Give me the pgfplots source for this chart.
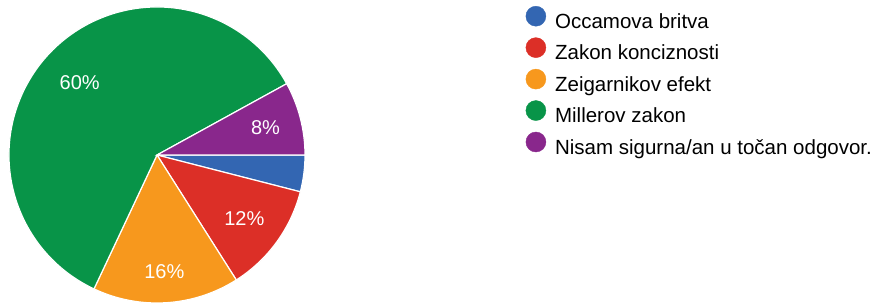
\documentclass[border=0pt]{standalone}
\usepackage{pgfplots}
\pgfplotsset{compat=1.18}
\usepackage{fontspec}
\setmainfont{Liberation Sans}
\usetikzlibrary{calc}
\definecolor{pblue}{RGB}{51,102,178}
\definecolor{pred}{RGB}{220,47,39}
\definecolor{porange}{RGB}{247,152,29}
\definecolor{pgreen}{RGB}{8,148,72}
\definecolor{ppurple}{RGB}{137,39,140}
% slice: start %, end %, colour, label, label distance
\newcommand{\slice}[5]{%
  \fill[#3, draw=white, line width=1.2pt] (axis cs:157,155) -- ++({-3.6*#1}:148pt)
    arc[start angle={-3.6*#1}, end angle={-3.6*#2}, radius=148pt] -- cycle;
  \node[text=white, font=\fontsize{20}{22}\selectfont] at ($(axis cs:157,155)+({-1.8*(#1+#2)}:#5pt)$) {#4};
}
\begin{document}
\begin{tikzpicture}
\begin{axis}[
  x=1pt, y=1pt, xmin=0, xmax=878, ymin=0, ymax=304, y dir=reverse,
  hide axis, clip=false,
  legend style={at={(axis cs:525.7,6)}, anchor=north west, draw=none, fill=none,
    inner sep=0pt, outer sep=0pt,
    font=\fontsize{20.5}{22}\selectfont, row sep=5pt, column sep=9pt,
    nodes={inner sep=0pt, outer sep=0pt, text height=14.5pt, text depth=4pt, anchor=west}},
  legend cell align=left,
  legend image code/.code={\fill[#1] (0pt,7pt) circle (10pt);},
]
% data: percentages 4, 12, 16, 60, 8 (cumulative 0,4,16,32,92,100)
\slice{0}{4}{pblue}{}{108}
\slice{4}{16}{pred}{12\%}{108}
\slice{16}{32}{porange}{16\%}{117}
\slice{32}{92}{pgreen}{60\%}{106}
\slice{92}{100}{ppurple}{8\%}{112}
\addlegendimage{pblue}\addlegendentry{Occamova britva}
\addlegendimage{pred}\addlegendentry{Zakon konciznosti}
\addlegendimage{porange}\addlegendentry{Zeigarnikov efekt}
\addlegendimage{pgreen}\addlegendentry{Millerov zakon}
\addlegendimage{ppurple}\addlegendentry{Nisam sigurna/an u točan odgovor.}
\end{axis}
\pgfresetboundingbox
\path (current axis.south west) rectangle (current axis.north east);
\end{tikzpicture}
\end{document}
